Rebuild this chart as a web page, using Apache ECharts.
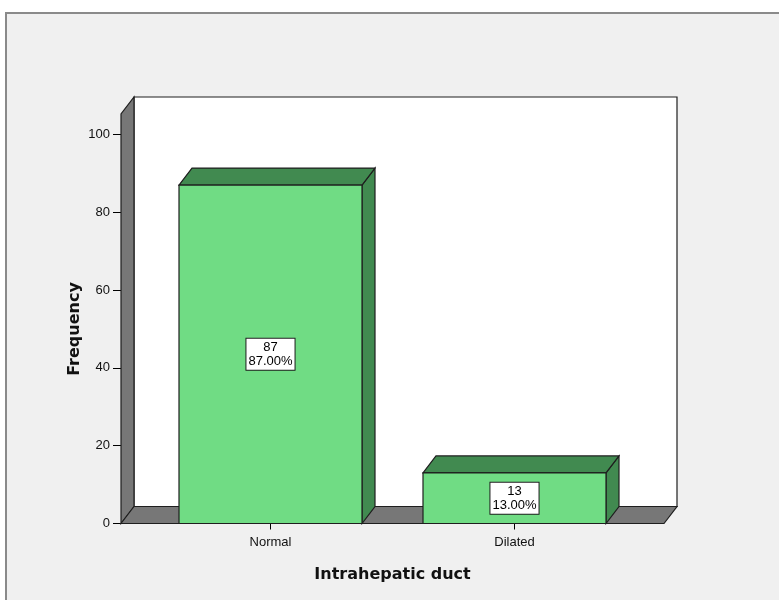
<!DOCTYPE html>
<html>
<head>
<meta charset="utf-8">
<script src="https://cdn.jsdelivr.net/npm/echarts@6/dist/echarts.min.js"></script>
<style>
  html, body { margin: 0; padding: 0; background: #ffffff; }
  #chart { width: 779px; height: 600px; }
</style>
</head>
<body>
<div id="chart"></div>
<script>
// Intrahepatic duct frequencies
const categories = ['Normal', 'Dilated'];
const counts = [87, 13];
const yTicks = [0, 20, 40, 60, 80, 100];

const total = counts.reduce((a, b) => a + b, 0);
const percents = counts.map(c => (c / total * 100).toFixed(2) + '%');

// 3D look: depth offset of back faces, in pixels
const DEPTH = [13, -17];
const WALL_EXTRA = 27.5;   // floor / wall reach beyond the category band
const WALL_RISE = 20.5;    // wall height above the top tick
const EDGE = '#1e1e1e';
const FRONT = '#70dc84';
const SHADE = '#418a50';
const WALL = '#777777';
const FONT = '"Liberation Sans", Arial, sans-serif';
const TITLE_FONT = '"DejaVu Sans", Verdana, sans-serif';

function renderBackdrop(params) {
  const cs = params.coordSys;
  const [dx, dy] = DEPTH;
  const x0 = cs.x - WALL_EXTRA;
  const x1 = cs.x + cs.width + WALL_EXTRA;
  const yb = cs.y + cs.height;
  const yt = cs.y - WALL_RISE;
  const stroke = { stroke: EDGE, lineWidth: 1.2 };
  return {
    type: 'group',
    children: [
      { type: 'rect', shape: { x: x0 + dx, y: yt + dy, width: x1 - x0, height: yb - yt },
        style: Object.assign({ fill: '#ffffff' }, stroke) },
      { type: 'polygon', shape: { points: [[x0, yb], [x0, yt], [x0 + dx, yt + dy], [x0 + dx, yb + dy]] },
        style: Object.assign({ fill: WALL }, stroke) },
      { type: 'polygon', shape: { points: [[x0, yb], [x0 + dx, yb + dy], [x1 + dx, yb + dy], [x1, yb]] },
        style: Object.assign({ fill: WALL }, stroke) }
    ]
  };
}

function renderBar(params, api) {
  const i = api.value(0);
  const val = api.value(1);
  const top = api.coord([i, val]);
  const base = api.coord([i, 0]);
  const w = api.size([1, 0])[0] * 0.75;
  const [dx, dy] = DEPTH;
  const xl = top[0] - w / 2, xr = top[0] + w / 2;
  const yt = top[1], yb = base[1];
  const stroke = { stroke: EDGE, lineWidth: 1.2 };
  return {
    type: 'group',
    children: [
      { type: 'polygon', shape: { points: [[xr, yb], [xr, yt], [xr + dx, yt + dy], [xr + dx, yb + dy]] },
        style: Object.assign({ fill: SHADE }, stroke) },
      { type: 'polygon', shape: { points: [[xl, yt], [xr, yt], [xr + dx, yt + dy], [xl + dx, yt + dy]] },
        style: Object.assign({ fill: SHADE }, stroke) },
      { type: 'rect', shape: { x: xl, y: yt, width: w, height: yb - yt },
        style: Object.assign({ fill: FRONT }, stroke) },
      { type: 'text', x: top[0], y: (yt + yb) / 2,
        style: {
          text: counts[i] + '\n' + percents[i],
          fill: '#000', font: '13px ' + FONT, lineHeight: 14,
          align: 'center', verticalAlign: 'middle',
          backgroundColor: '#ffffff', borderColor: EDGE, borderWidth: 1,
          padding: [2, 2, 1, 2]
        } }
    ]
  };
}

const chart = echarts.init(document.getElementById('chart'), null, { renderer: 'canvas' });
chart.setOption({
  backgroundColor: '#ffffff',
  animation: false,
  graphic: [{
    type: 'rect', z: -10, silent: true,
    shape: { x: 6, y: 13, width: 800, height: 620 },
    style: { fill: '#f0f0f0', stroke: '#8a8a8a', lineWidth: 2 }
  }],
  grid: { left: 148.5, right: 142.5, top: 134.5, bottom: 76.5 },
  xAxis: {
    type: 'category',
    data: categories,
    axisLine: { show: false },
    axisTick: { show: true, alignWithLabel: true, length: 6, lineStyle: { color: '#000' } },
    axisLabel: { fontSize: 13, fontFamily: FONT, color: '#111', margin: 12 },
    name: 'Intrahepatic duct',
    nameLocation: 'middle',
    nameGap: 43,
    nameMoveOverlap: false,
    nameTextStyle: { fontSize: 16, fontWeight: 'bold', fontFamily: TITLE_FONT, color: '#111' }
  },
  yAxis: {
    type: 'value',
    min: yTicks[0],
    max: yTicks[yTicks.length - 1],
    interval: yTicks[1] - yTicks[0],
    offset: WALL_EXTRA,
    splitLine: { show: false },
    axisLine: { show: true, lineStyle: { color: EDGE } },
    axisTick: { show: true, length: 8, lineStyle: { color: '#000' } },
    axisLabel: { fontSize: 13, fontFamily: FONT, color: '#111', margin: 11 },
    name: 'Frequency',
    nameLocation: 'middle',
    nameRotate: 90,
    nameGap: 38,
    nameMoveOverlap: false,
    nameTextStyle: { fontSize: 16, fontWeight: 'bold', fontFamily: TITLE_FONT, color: '#111' }
  },
  series: [
    { type: 'custom', name: 'backdrop', renderItem: renderBackdrop, data: [[0]], clip: false, z: 1, silent: true },
    { type: 'custom', name: 'Frequency', renderItem: renderBar,
      data: counts.map((v, i) => [i, v]), clip: false, z: 3,
      encode: { x: 0, y: 1 } }
  ]
});
</script>
</body>
</html>
